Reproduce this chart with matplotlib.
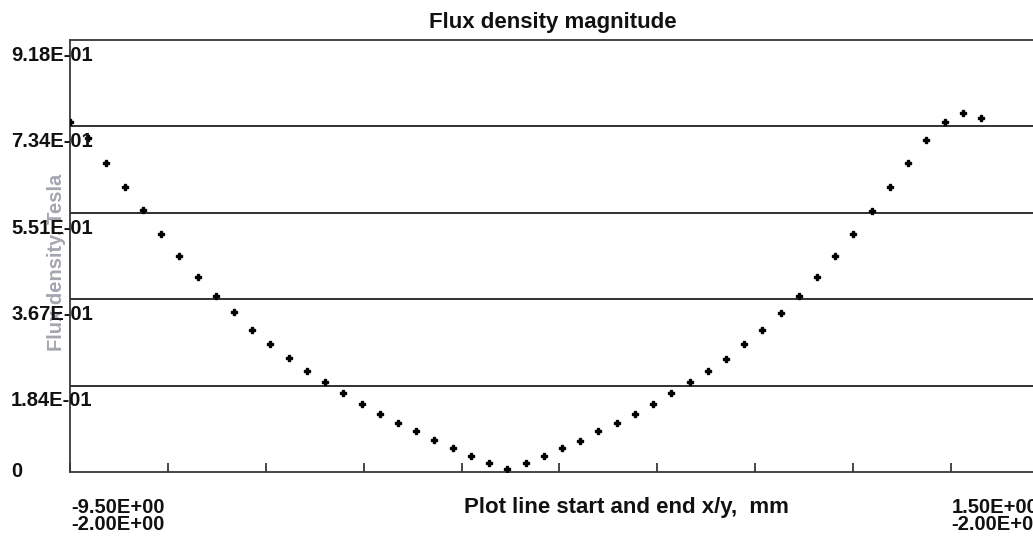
import matplotlib
matplotlib.use("Agg")
import matplotlib.pyplot as plt
import matplotlib.transforms as mtransforms
import numpy as np

# flux density (Tesla), evenly spaced samples along the line
flux = [0.744, 0.709, 0.656, 0.606, 0.557, 0.506, 0.459, 0.415, 0.375, 0.339,
        0.302, 0.271, 0.243, 0.214, 0.191, 0.167, 0.144, 0.124, 0.104, 0.087,
        0.067, 0.050, 0.034, 0.020, 0.007, 0.020, 0.034, 0.050, 0.0665, 0.087,
        0.1035, 0.124, 0.144, 0.167, 0.191, 0.215, 0.241, 0.271, 0.301, 0.338,
        0.375, 0.415, 0.459, 0.505, 0.555, 0.606, 0.656, 0.705, 0.743, 0.763,
        0.753]
x_start = -9.5
x_end = 1.5
sample_step = 0.2275  # mm between samples
y_ticks = [0, 0.1836, 0.3672, 0.5508, 0.7344, 0.918]
y_labels = ["0", "1.84E-01", "3.67E-01", "5.51E-01", "7.34E-01", "9.18E-01"]
start_labels = ["-9.50E+00", "-2.00E+00"]
end_labels = ["1.50E+00", "-2.00E+00"]

W, H = 1033, 538
plt.rcParams["font.family"] = ["Liberation Sans", "DejaVu Sans"]
fig = plt.figure(figsize=(W / 100, H / 100), dpi=100)
ax = fig.add_axes([70 / W, 66 / H, (1060 - 70) / W, 432 / H])

x = x_start + sample_step * np.arange(len(flux))
ax.plot(x, flux, linestyle="none", marker="P", ms=4, color="black", zorder=3)

px_per_mm = 881 / (x_end - x_start)
ax.set_xlim(x_start, x_start + 990 / px_per_mm)
ax.set_ylim(0, y_ticks[-1])

line_col = "#383838"
for s in ["left", "top", "bottom"]:
    ax.spines[s].set_color(line_col)
    ax.spines[s].set_linewidth(1.3)
ax.spines["right"].set_visible(False)

ax.set_yticks(y_ticks[1:-1])
ax.set_yticklabels([])
ax.tick_params(axis="y", length=0)
ax.grid(axis="y", color="#202020", linewidth=1.3)

ax.set_xticks(np.linspace(x_start, x_end, 10))
ax.set_xticklabels([])
ax.tick_params(axis="x", direction="in", length=6.5, width=1.3, color=line_col)

# y tick labels sit just under each line, overlapping the axis
ytrans = mtransforms.blended_transform_factory(fig.transFigure, ax.transData)
for v, lab in zip(y_ticks, y_labels):
    dy = 4.7 if v == 0 else 20.7
    off = mtransforms.ScaledTranslation(0, -dy / 100, fig.dpi_scale_trans)
    fig.text(11 / W, v, lab, transform=ytrans + off, ha="left", va="baseline",
             fontsize=14.5, fontweight="bold", color="#111111", zorder=5)

# start / end coordinates under the x axis
xtrans = mtransforms.blended_transform_factory(ax.transData, fig.transFigure)
for xv, labs, dx in [(x_start, start_labels, 1.7), (x_end, end_labels, 0.7)]:
    off = mtransforms.ScaledTranslation(dx / 100, 0, fig.dpi_scale_trans)
    for lab, yb in zip(labs, [513, 530]):
        ax.text(xv, 1 - yb / H, lab, transform=xtrans + off, ha="left",
                va="baseline", fontsize=14.5, fontweight="bold", color="#111111",
                clip_on=False)

fig.text(626 / W, 1 - 513 / H, "Plot line start and end x/y,  mm", ha="center",
         va="baseline", fontsize=16, fontweight="bold", color="#111111")
fig.text(553 / W, 1 - 28 / H, "Flux density magnitude", ha="center",
         va="baseline", fontsize=16, fontweight="bold", color="#111111")
fig.text(56 / W, 1 - 262 / H, "Flux density, Tesla", rotation=90, ha="center",
         va="center", fontsize=14.5, fontweight="bold", color="#a4a6b0", zorder=1)

fig.savefig("out.png", dpi=100)
